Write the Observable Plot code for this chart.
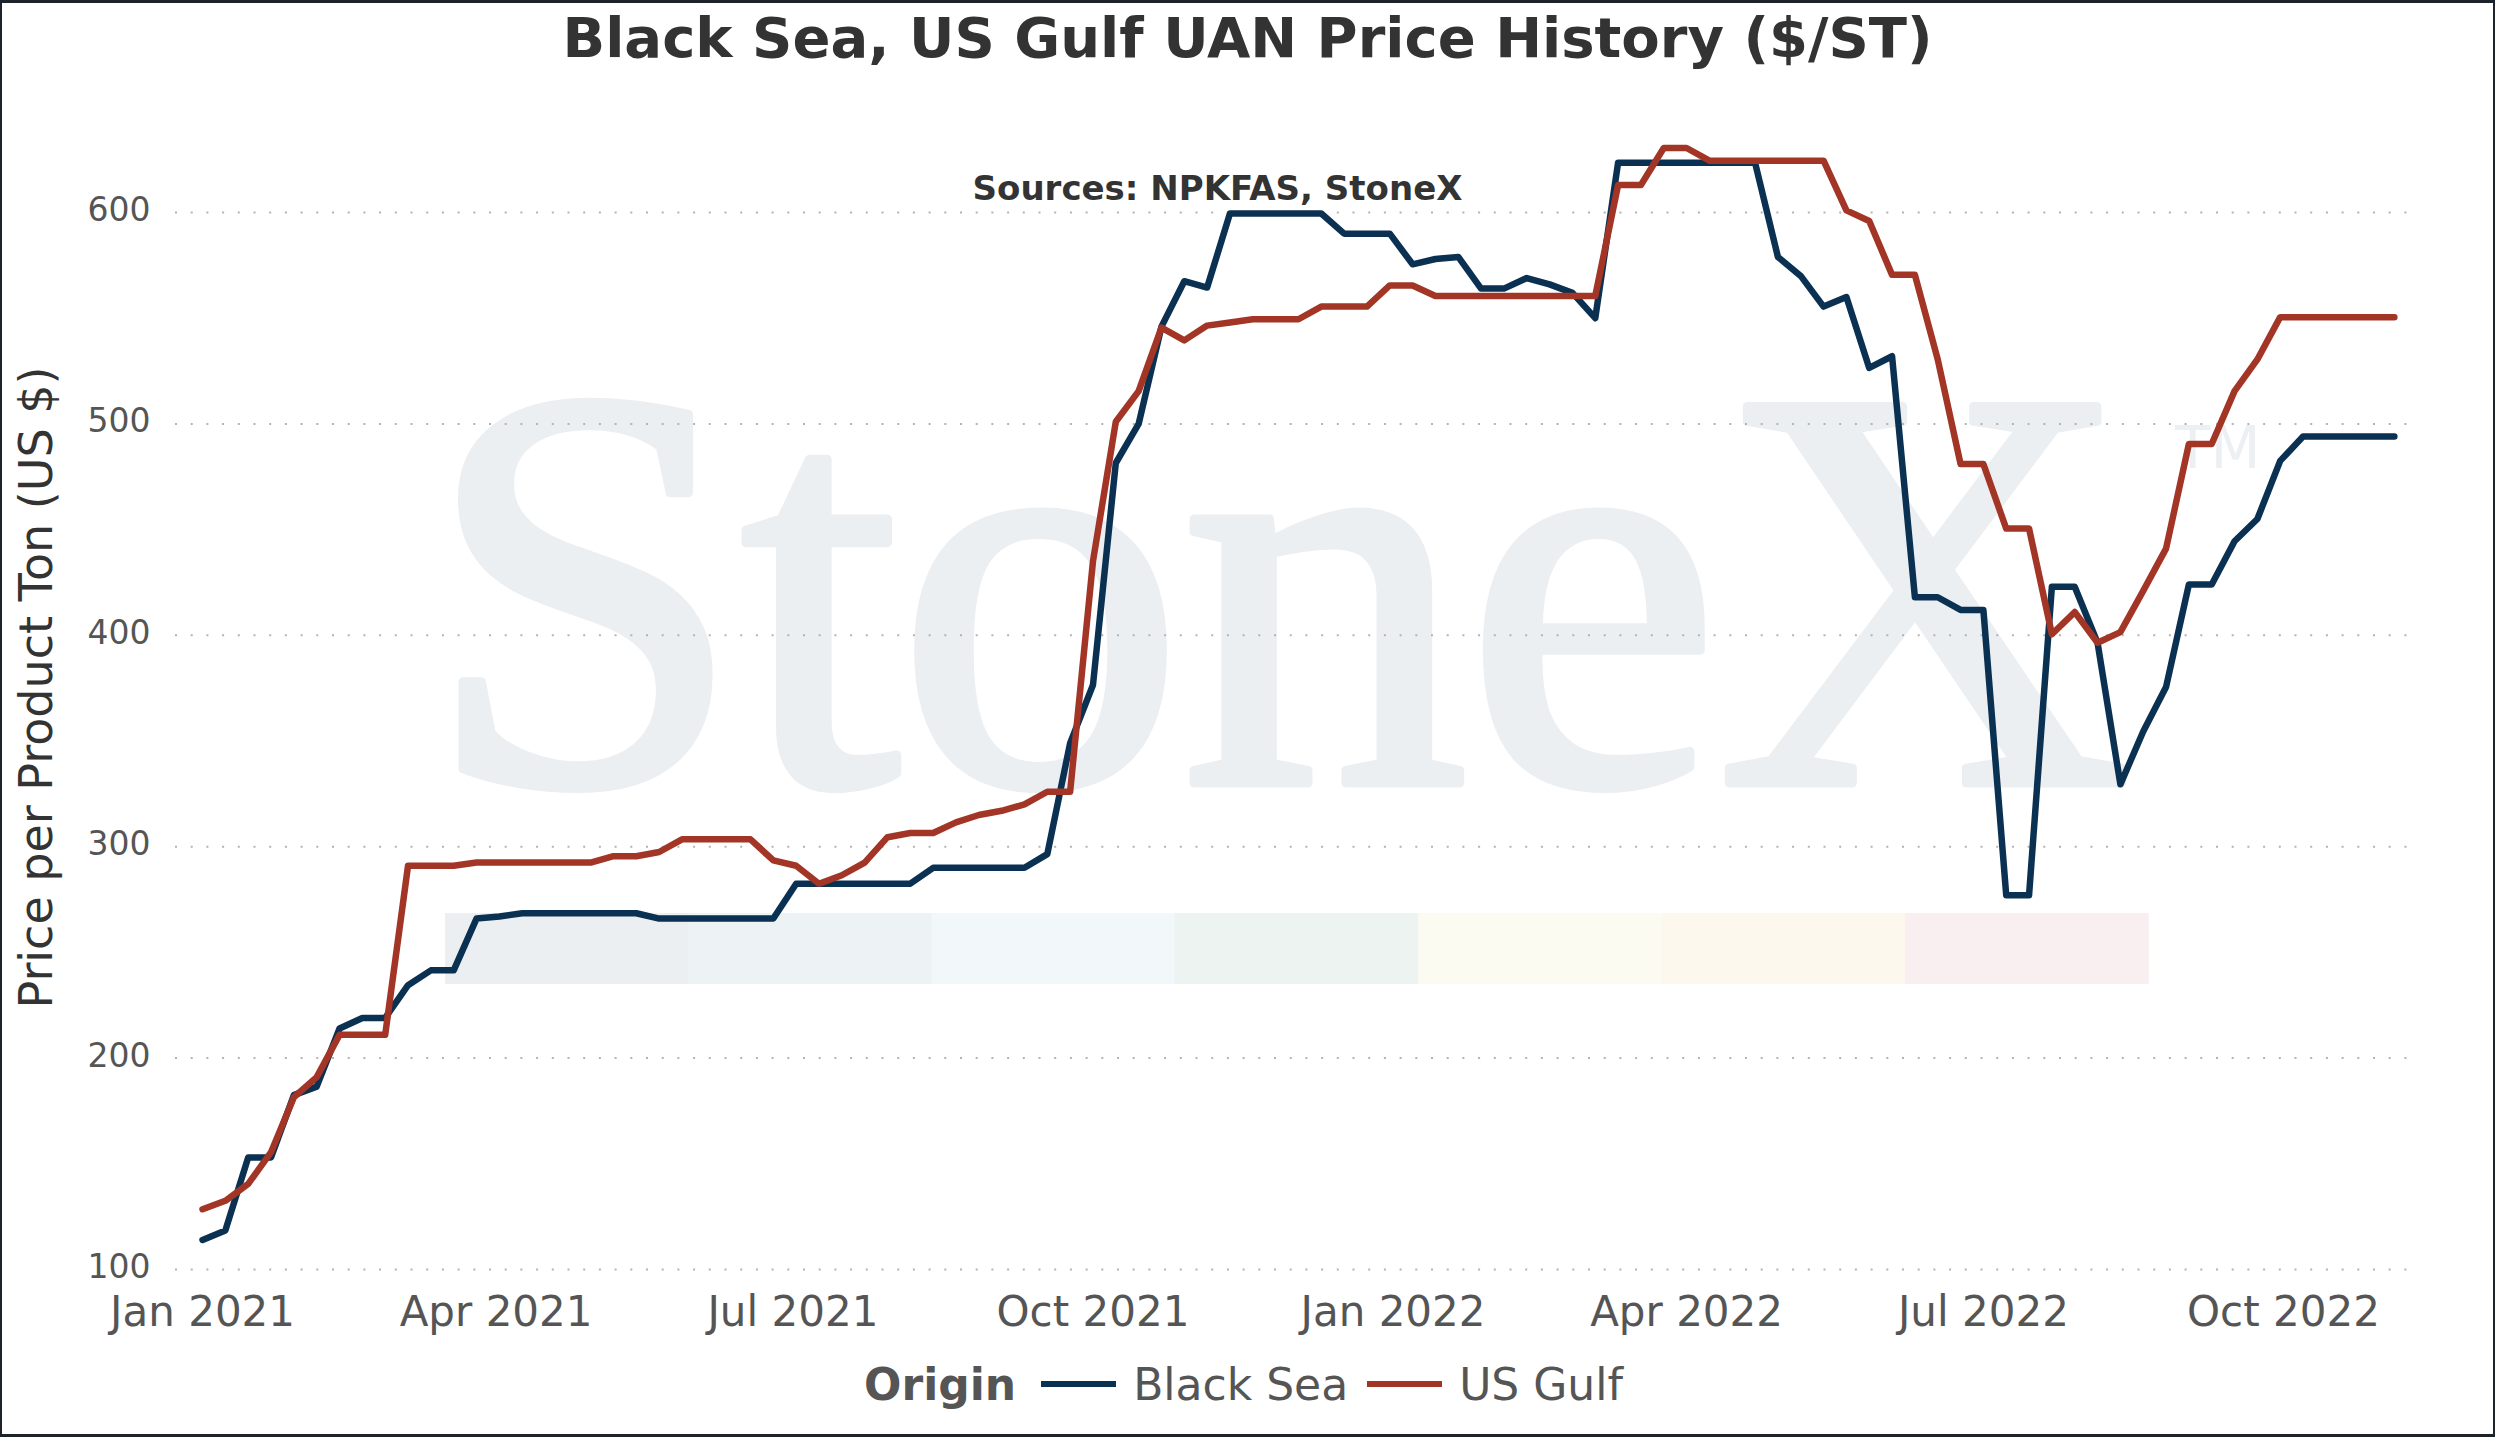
<!DOCTYPE html>
<html>
<head>
<meta charset="utf-8">
<script src="https://cdn.jsdelivr.net/npm/d3@7"></script>
<script src="https://cdn.jsdelivr.net/npm/@observablehq/plot@0.6"></script>
<style>
  html, body { margin: 0; padding: 0; background: #fff; }
  #page { position: relative; width: 2495px; height: 1437px; overflow: hidden; background: #fff; font-family: "DejaVu Sans", sans-serif; }
  #bg { position: absolute; left: 0; top: 0; z-index: 0; }
  #title { position: relative; z-index: 2; height: 70px; box-sizing: border-box; padding-top: 6px; line-height: 64px; text-align: center; font-size: 56px; font-weight: bold; color: #333; white-space: nowrap; }
  #chart { position: relative; z-index: 1; height: 1270px; }
  #chart svg { display: block; }
  #legend { position: relative; z-index: 2; height: 88px; display: flex; align-items: center; justify-content: center; font-size: 44px; color: #555; white-space: nowrap; padding-right: 8px; }
  #legend .sw { display: inline-block; width: 75px; height: 6px; }
  #frame { position: absolute; left: 0; top: 0; right: 0; bottom: 0; border: 2px solid #1d232b; border-top-width: 3px; border-bottom-width: 3px; pointer-events: none; z-index: 5; }
</style>
</head>
<body>
<div id="page">
  <svg id="bg" width="2495" height="1437"></svg>
  <div id="title"></div>
  <div id="chart"></div>
  <div id="legend"></div>
  <div id="frame"></div>
</div>
<script>
// ---- data ----
const dates = [
"2021-01-01","2021-01-08","2021-01-15","2021-01-22","2021-01-29",
"2021-02-05","2021-02-12","2021-02-19","2021-02-26",
"2021-03-05","2021-03-12","2021-03-19","2021-03-26",
"2021-04-02","2021-04-09","2021-04-16","2021-04-23","2021-04-30",
"2021-05-07","2021-05-14","2021-05-21","2021-05-28",
"2021-06-04","2021-06-11","2021-06-18","2021-06-25",
"2021-07-02","2021-07-09","2021-07-16","2021-07-23","2021-07-30",
"2021-08-06","2021-08-13","2021-08-20","2021-08-27",
"2021-09-03","2021-09-10","2021-09-17","2021-09-24",
"2021-10-01","2021-10-08","2021-10-15","2021-10-22","2021-10-29",
"2021-11-05","2021-11-12","2021-11-19","2021-11-26",
"2021-12-03","2021-12-10","2021-12-17","2021-12-24","2021-12-31",
"2022-01-07","2022-01-14","2022-01-21","2022-01-28",
"2022-02-04","2022-02-11","2022-02-18","2022-02-25",
"2022-03-04","2022-03-11","2022-03-18","2022-03-25",
"2022-04-01","2022-04-08","2022-04-15","2022-04-22","2022-04-29",
"2022-05-06","2022-05-13","2022-05-20","2022-05-27",
"2022-06-03","2022-06-10","2022-06-17","2022-06-24",
"2022-07-01","2022-07-08","2022-07-15","2022-07-22","2022-07-29",
"2022-08-05","2022-08-12","2022-08-19","2022-08-26",
"2022-09-02","2022-09-09","2022-09-16","2022-09-23","2022-09-30",
"2022-10-07","2022-10-14","2022-10-21","2022-10-28",
"2022-11-04"
];

const blackSea = [
114, 118.5, 153, 153, 182.5, 186.5, 214, 219, 219, 234.5, 241.5, 241.5, 266, 267, 268.5, 268.5, 268.5, 268.5, 268.5, 268.5,
266, 266, 266, 266, 266, 266, 282.5, 282.5, 282.5, 282.5, 282.5, 282.5, 290, 290, 290, 290, 290, 296.5, 349, 376.5,
481.5, 500, 546, 567.5, 564.5, 599.5, 599.5, 599.5, 599.5, 599.5, 590, 590, 590, 575.5, 578, 579, 564, 564, 569, 566,
562, 550, 623.5, 623.5, 623.5, 623.5, 623.5, 623.5, 623.5, 579, 570, 555.5, 560, 526.5, 532, 418, 418, 412, 412, 277,
277, 423, 423, 396.5, 329.5, 354.5, 375.5, 424, 424, 444.5, 455, 482.5, 494, 494, 494, 494, 494
];

const usGulf = [
128.5, 132.5, 140.5, 155.5, 181.5, 191, 211, 211, 211, 291, 291, 291, 292.5, 292.5, 292.5, 292.5, 292.5, 292.5, 295.5, 295.5,
297.5, 303.5, 303.5, 303.5, 303.5, 293.5, 291, 282.5, 286.5, 292.5, 304.5, 306.5, 306.5, 311.5, 315, 317, 320, 326, 326, 435,
501, 515.5, 545.5, 539.5, 546.5, 548, 549.5, 549.5, 549.5, 555.5, 555.5, 555.5, 565.5, 565.5, 560.5, 560.5, 560.5, 560.5, 560.5, 560.5,
560.5, 560.5, 613, 613, 630.5, 630.5, 624.5, 624.5, 624.5, 624.5, 624.5, 624.5, 601, 596, 570.5, 570.5, 530.5, 481, 481, 450.5,
450.5, 400.5, 411, 396.5, 401.5, 421, 441, 490.5, 490.5, 515.5, 530.5, 550.5, 550.5, 550.5, 550.5, 550.5, 550.5
];

const seriesNames = ["Black Sea", "US Gulf"];
const seriesColors = ["#0b3152", "#a23526"];
const yTicks = [100, 200, 300, 400, 500, 600];
const xTickDates = ["2021-01-01","2021-04-01","2021-07-01","2021-10-01","2022-01-01","2022-04-01","2022-07-01","2022-10-01"];
const xTickLabels = ["Jan 2021","Apr 2021","Jul 2021","Oct 2021","Jan 2022","Apr 2022","Jul 2022","Oct 2022"];
const titleText = "Black Sea, US Gulf UAN Price History ($/ST)";
const sourceText = "Sources: NPKFAS, StoneX";
const yLabel = "Price per Product Ton (US $)";
const legendTitle = "Origin";

// ---- build table ----
const parse = s => new Date(s + "T00:00:00Z");
const rows = [];
dates.forEach((d, i) => rows.push({date: parse(d), origin: "Black Sea", value: blackSea[i]}));
dates.forEach((d, i) => rows.push({date: parse(d), origin: "US Gulf", value: usGulf[i]}));
const xTicks = xTickDates.map(parse);
const labelMap = new Map(xTicks.map((d, i) => [+d, xTickLabels[i]]));

// ---- watermark (decoration) ----
const bg = d3.select("#bg");
bg.append("text")
  .attr("x", 424).attr("y", 783)
  .attr("font-family", "Liberation Serif, serif")
  .attr("font-size", 575)
  .attr("textLength", 1708).attr("lengthAdjust", "spacing")
  .attr("fill", "#ebeff2")
  .attr("stroke", "#ebeff2").attr("stroke-width", 9).attr("stroke-linejoin", "round")
  .text("StoneX");
bg.append("text")
  .attr("x", 2175).attr("y", 468)
  .attr("font-family", "DejaVu Sans, sans-serif")
  .attr("font-size", 58)
  .attr("fill", "#edf0f3")
  .text("TM");
const bandColors = ["#ebeff2", "#edf2f5", "#f2f7fa", "#edf3f1", "#fbfbf2", "#fcf8ee", "#f9eef0"];
bandColors.forEach((c, i) => {
  bg.append("rect").attr("x", 445 + i * 243.3).attr("y", 913).attr("width", 244).attr("height", 71).attr("fill", c);
});

document.getElementById("title").textContent = titleText;

// ---- plot ----
const chart = Plot.plot({
  width: 2495,
  height: 1270,
  marginLeft: 175,
  marginRight: 77,
  marginTop: 142,
  marginBottom: 71,
  style: {background: "transparent", fontFamily: "DejaVu Sans, sans-serif", overflow: "visible"},
  x: {type: "utc", domain: [new Date("2020-12-23T17:00:00Z"), new Date("2022-11-11T09:40:00Z")], label: null},
  y: {domain: [100, 600], label: null, axis: null},
  color: {domain: seriesNames, range: seriesColors},
  marks: [
    Plot.gridY(yTicks, {stroke: "#b3b3b3", strokeOpacity: 1, strokeWidth: 2, strokeDasharray: "2,13.7"}),
    Plot.text(yTicks, {y: d => d, text: d => String(d), frameAnchor: "left", textAnchor: "end", lineAnchor: "middle", dx: -25, dy: -2, fontSize: 33, fill: "#555"}),
    Plot.axisX(xTicks, {tickSize: 0, tickPadding: 27, fontSize: 42, fill: "#555", label: null, tickFormat: d => labelMap.get(+d)}),
    Plot.line(rows, {x: "date", y: "value", z: "origin", stroke: "origin", strokeWidth: 6.5, strokeLinejoin: "round", strokeLinecap: "round"}),
    Plot.text([sourceText], {text: d => d, frameAnchor: "top", textAnchor: "middle", lineAnchor: "middle", dx: -79.5, dy: -23, fontSize: 34, fontWeight: "bold", fill: "#333"}),
    Plot.text([yLabel], {text: d => d, frameAnchor: "left", textAnchor: "middle", lineAnchor: "middle", rotate: -90, dx: -138, dy: -53.5, fontSize: 46, fill: "#333"})
  ]
});
document.getElementById("chart").appendChild(chart);

// ---- legend ----
const legend = d3.select("#legend");
legend.append("span").style("font-weight", "bold").style("margin-right", "25px").text(legendTitle);
seriesNames.forEach((name, i) => {
  legend.append("span").attr("class", "sw").style("background", seriesColors[i]).style("margin-right", "17px");
  legend.append("span").style("margin-right", i < seriesNames.length - 1 ? "19px" : "0").text(name);
});
</script>
</body>
</html>
